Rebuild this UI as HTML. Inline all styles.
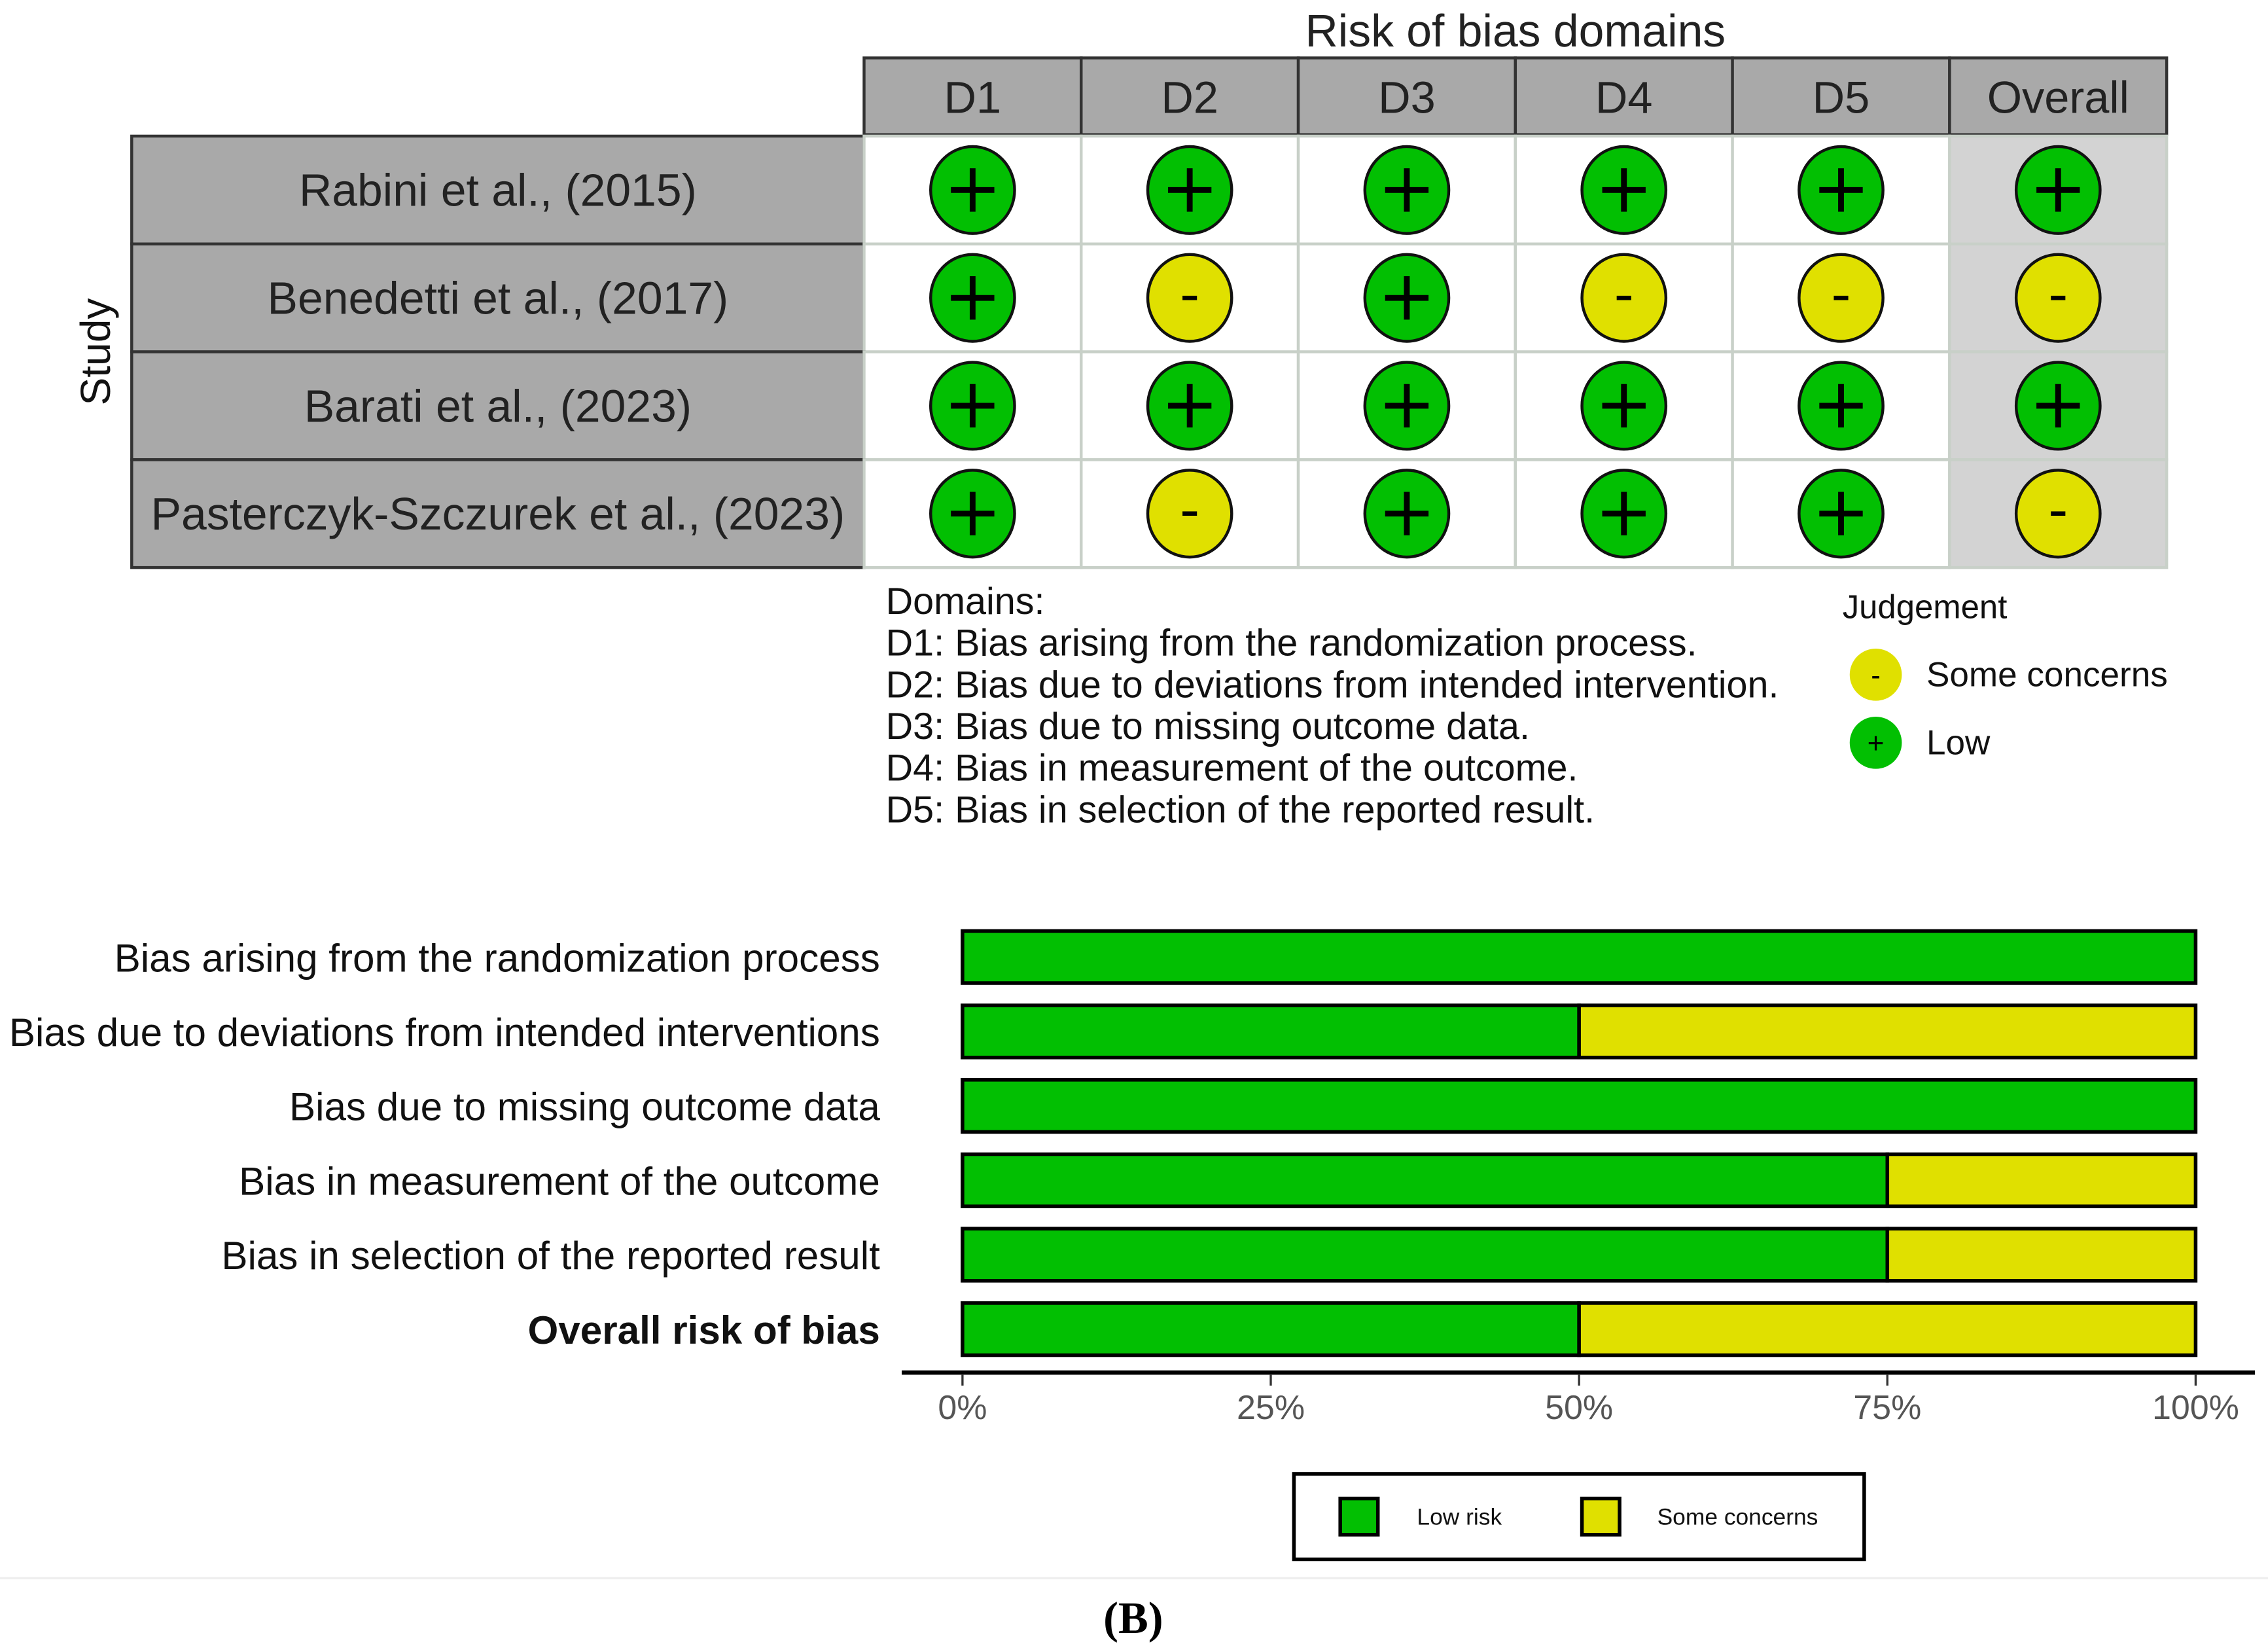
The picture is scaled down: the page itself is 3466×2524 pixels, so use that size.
<!DOCTYPE html>
<html><head><meta charset="utf-8"><style>
html,body{margin:0;padding:0;background:#fff}
svg{display:block}
text{font-family:"Liberation Sans",sans-serif}
</style></head><body>
<svg id="fig" width="3466" height="2524" viewBox="0 0 1567 1141" preserveAspectRatio="none" xmlns="http://www.w3.org/2000/svg">
<rect width="1567" height="1141" fill="#fff"/>
<g id="tl"></g>
<g id="bar"></g>
<line x1="0" y1="1090" x2="1567" y2="1090" stroke="#eeeeee" stroke-width="1.5"/>
<text x="783" y="1128" text-anchor="middle" font-size="31" font-weight="bold" style="font-family:'Liberation Serif',serif">(B)</text>
</svg>
<script>
const studies = ["Rabini et al., (2015)","Benedetti et al., (2017)","Barati et al., (2023)","Pasterczyk-Szczurek et al., (2023)"];
const domains = ["D1","D2","D3","D4","D5","Overall"];
const judgements = [
  ["L","L","L","L","L","L"],
  ["L","S","L","S","S","S"],
  ["L","L","L","L","L","L"],
  ["L","S","L","L","L","S"]
];
const domainDescriptions = ["Domains:","D1: Bias arising from the randomization process.","D2: Bias due to deviations from intended intervention.","D3: Bias due to missing outcome data.","D4: Bias in measurement of the outcome.","D5: Bias in selection of the reported result."];
const barCategories = ["Bias arising from the randomization process","Bias due to deviations from intended interventions","Bias due to missing outcome data","Bias in measurement of the outcome","Bias in selection of the reported result","Overall risk of bias"];
const lowRiskPct = [100,50,100,75,75,50];
const someConcernsPct = [0,50,0,25,25,50];
const tickValues = [0,25,50,75,100];
const tickLabels = ["0%","25%","50%","75%","100%"];

const NS="http://www.w3.org/2000/svg";
function mk(parent,tag,attrs,txt){const e=document.createElementNS(NS,tag);for(const k in attrs)e.setAttribute(k,attrs[k]);if(txt!==undefined)e.textContent=txt;parent.appendChild(e);return e;}
const GREEN="#02bf02",YELLOW="#e0e000";

const tl=document.getElementById('tl');
const colX0=597,colW=150,headY=40,headH=53,rowY0=94,rowH=74.5,studyX0=91;
const colX=i=>colX0+i*colW, rowY=j=>rowY0+j*rowH;
let t=mk(tl,'text',{x:1047,y:32,'text-anchor':'middle','font-size':31.5,fill:'#222'},"Risk of bias domains");


domains.forEach((d,i)=>{
  const r=mk(tl,'rect',{x:colX(i),y:headY,width:colW,height:headH,fill:'#a9a9a9',stroke:'#333',"stroke-width":2});
  
  
  const tx=mk(tl,'text',{x:colX(i)+colW/2,y:headY+38,'text-anchor':'middle','font-size':31,fill:'#222'},d);
  
  
});
studies.forEach((s,j)=>{
  const r=mk(tl,'rect',{x:studyX0,y:rowY(j),width:colX0-studyX0,height:rowH,fill:'#a9a9a9',stroke:'#333',"stroke-width":2});
  
  
  const tx=mk(tl,'text',{x:(studyX0+colX0)/2,y:rowY(j)+rowH/2+11,'text-anchor':'middle','font-size':31.5,fill:'#222'},s);
  
  
  domains.forEach((d,i)=>{
    const c=mk(tl,'rect',{x:colX(i),y:rowY(j),width:colW,height:rowH,fill:i===5?'#d3d3d3':'#fff',stroke:'#c8d0c8',"stroke-width":2});
    
    
    const v=judgements[j][i],cx=colX(i)+colW/2,cy=rowY(j)+rowH/2;
    const ci=mk(tl,'ellipse',{cx:cx,cy:cy,rx:29,ry:30,fill:v==='L'?GREEN:YELLOW,stroke:'#111',"stroke-width":2});
    
    
    if(v==='L'){
      mk(tl,'path',{d:`M${cx-15} ${cy}H${cx+15}M${cx} ${cy-15}V${cy+15}`,stroke:'#000','stroke-width':4});
    }else{
      mk(tl,'path',{d:`M${cx-5} ${cy}H${cx+5}`,stroke:'#000','stroke-width':3});
    }
  });
});
t=mk(tl,'text',{x:0,y:0,'font-size':29,fill:'#111',transform:'translate(76,243) rotate(-90)','text-anchor':'middle'},"Study");


domainDescriptions.forEach((s,k)=>{
  const tx=mk(tl,'text',{x:612,y:424+k*28.8,'font-size':26,fill:'#111'},s);
  
  
});
t=mk(tl,'text',{x:1273,y:427,'font-size':23,fill:'#111'},"Judgement");


[["S","Some concerns",466],["L","Low",513]].forEach(([v,l,y])=>{
  const c=mk(tl,'circle',{cx:1296,cy:y,r:18,fill:v==='L'?GREEN:YELLOW});
  
  
  mk(tl,'text',{x:1296,y:y+7,'text-anchor':'middle','font-size':20,fill:'#000'},v==='L'?'+':'-');
  const tx=mk(tl,'text',{x:1331,y:y+8,'font-size':24,fill:'#111'},l);
  
  
});

const bar=document.getElementById('bar');
const xPx=v=>665+(1517-665)*v/100;
const yC=i=>661+i*51.4;
const bh=36;
barCategories.forEach((c,i)=>{
  const tx=mk(bar,'text',{x:608,y:yC(i)+10,'text-anchor':'end','font-size':27.2,fill:'#111','font-weight':i===5?'bold':'normal'},c);
  
  
  const g=mk(bar,'rect',{x:xPx(0),y:yC(i)-bh/2,width:xPx(lowRiskPct[i])-xPx(0),height:bh,fill:GREEN,stroke:'#000','stroke-width':2.5});
  
  
  if(someConcernsPct[i]>0){
    const y=mk(bar,'rect',{x:xPx(lowRiskPct[i]),y:yC(i)-bh/2,width:xPx(lowRiskPct[i]+someConcernsPct[i])-xPx(lowRiskPct[i]),height:bh,fill:YELLOW,stroke:'#000','stroke-width':2.5});
    
    
  }
});
t=mk(bar,'line',{x1:623,y1:948,x2:1558,y2:948,stroke:'#000','stroke-width':3});


tickValues.forEach((v,k)=>{
  mk(bar,'line',{x1:xPx(v),y1:949,x2:xPx(v),y2:957,stroke:'#333','stroke-width':1.5});
  const tx=mk(bar,'text',{x:xPx(v),y:980,'text-anchor':'middle','font-size':23.5,fill:'#555'},tickLabels[k]);
  
  
});
t=mk(bar,'rect',{x:894,y:1018,width:394,height:59,fill:'#fff',stroke:'#000','stroke-width':2.5});


[[GREEN,"Low risk",926,979],[YELLOW,"Some concerns",1093,1145]].forEach(([f,l,sx,tx0])=>{
  const s=mk(bar,'rect',{x:sx,y:1035,width:26,height:25,fill:f,stroke:'#000','stroke-width':2.5});
  
  
  const tx=mk(bar,'text',{x:tx0,y:1053,'font-size':16,fill:'#111'},l);
  
  
});
</script>
</body></html>
